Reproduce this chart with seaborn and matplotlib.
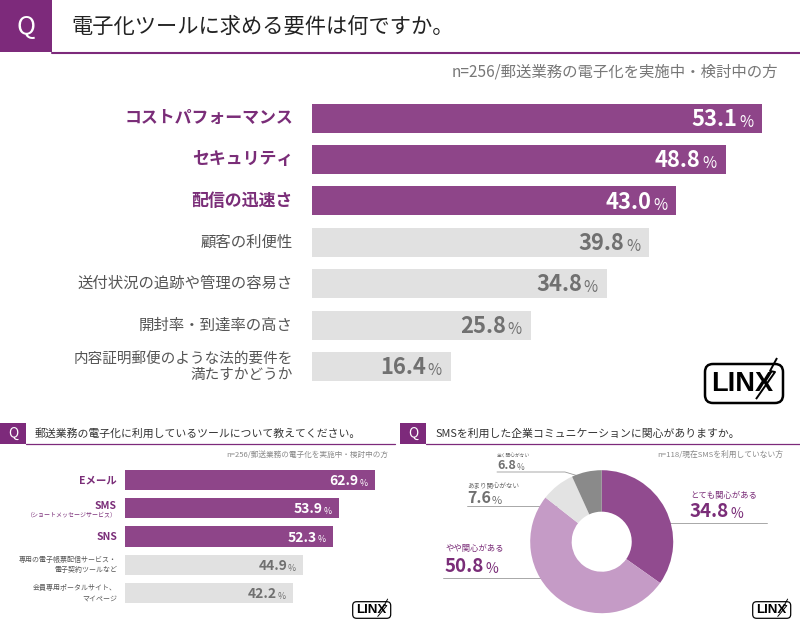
import matplotlib
matplotlib.use("Agg")
import matplotlib.pyplot as plt
import seaborn as sns
import pandas as pd
from matplotlib.patches import Rectangle, FancyBboxPatch

# ---------------- data ----------------
req_labels = ["コストパフォーマンス", "セキュリティ", "配信の迅速さ", "顧客の利便性",
              "送付状況の追跡や管理の容易さ", "開封率・到達率の高さ",
              "内容証明郵便のような法的要件を\n満たすかどうか"]
req_values = [53.1, 48.8, 43.0, 39.8, 34.8, 25.8, 16.4]
req_highlight = [True, True, True, False, False, False, False]

tool_labels = ["Eメール", "SMS", "SNS", "専用の電子帳票配信サービス・\n電子契約ツールなど",
               "会員専用ポータルサイト、\nマイページ"]
tool_values = [62.9, 53.9, 52.3, 44.9, 42.2]
tool_highlight = [True, True, True, False, False]

sms_labels = ["とても関心がある", "やや関心がある", "あまり関心がない", "全く関心がない"]
sms_values = [34.8, 50.8, 7.6, 6.8]

title_main = "電子化ツールに求める要件は何ですか。"
note_main = "n=256/郵送業務の電子化を実施中・検討中の方"
title_tool = "郵送業務の電子化に利用しているツールについて教えてください。"
note_tool = "n=256/郵送業務の電子化を実施中・検討中の方"
title_sms = "SMSを利用した企業コミュニケーションに関心がありますか。"
note_sms = "n=118/現在SMSを利用していない方"

# ---------------- style ----------------
PURPLE = "#8e4589"
QBOX = "#7d2a7b"
PTEXT = "#7a2d78"
GRAYBAR = "#e1e1e1"
GRAYVAL = "#707070"
LABGRAY = "#555555"
DONUT = ["#914b8f", "#c59bc6", "#e3e3e3", "#8a8a8a"]

sns.set_theme(style="white")
plt.rcParams["font.family"] = ["Noto Sans CJK JP", "DejaVu Sans"]

W, H = 800, 628
PT = 72 / 100.0  # points per pixel
fig = plt.figure(figsize=(8, 6.28), dpi=100)
fig.patch.set_facecolor("white")


def px_axes(l, t, r, b):
    a = fig.add_axes([l / W, 1 - b / H, (r - l) / W, (b - t) / H])
    a.patch.set_alpha(0)
    return a


ov = px_axes(0, 0, W, H)
ov.set_xlim(0, W)
ov.set_ylim(H, 0)
ov.axis("off")

# ---------------- headers ----------------
ov.add_patch(Rectangle((0, 0), 52, 52, color=QBOX, lw=0))
ov.text(26, 27, "Q", color="white", fontsize=18.5, ha="center", va="center")
ov.plot([52, 800], [52.5, 52.5], color=QBOX, lw=1.5)
ov.text(71, 26.5, title_main, fontsize=15.3, color="#222222", ha="left", va="center")
ov.text(778, 72, note_main, fontsize=11.1, color="#777777", ha="right", va="center")

for x0, x1, t in [(0, 395, title_tool), (400, 800, title_sms)]:
    ov.add_patch(Rectangle((x0, 423.3), 26, 20.7, color=QBOX, lw=0))
    ov.text(x0 + 13, 433.5, "Q", color="white", fontsize=10, ha="center", va="center")
    ov.plot([x0 + 26, x1], [444.2, 444.2], color=QBOX, lw=0.9)
    ov.text(x0 + 35, 433.3, t, fontsize=7.8, color="#333333", ha="left", va="center")
ov.text(388, 455, note_tool, fontsize=5.5, color="#888888", ha="right", va="center")
ov.text(783, 455, note_sms, fontsize=5.6, color="#888888", ha="right", va="center")


# ---------------- logo ----------------
def logo(x0, y0, x1, y1):
    w, h = x1 - x0, y1 - y0
    s = w / 78.0
    ov.add_patch(FancyBboxPatch((x0, y0), w, h, boxstyle=f"round,pad=0,rounding_size={8*s}",
                                fc="white", ec="black", lw=1.8 * s, zorder=5))
    ov.text(x0 + 37.5 * s, y0 + h * 0.5 + 0.5 * s, "LINX", fontfamily="Liberation Sans",
            fontweight="bold", fontsize=19.5 * s, ha="center", va="center", color="black",
            zorder=6)
    bx = [x0 + 72 * s, x0 + 65 * s, x0 + 70 * s, x0 + 51 * s]
    by = [y0 - 6 * s, y0 + 7 * s, y0 + 8 * s, y0 + h * 0.9]
    ov.plot(bx, by, color="black", lw=1.4 * s, zorder=7, solid_capstyle="butt")


logo(705, 364, 783, 403)
logo(352.7, 601.7, 390.7, 618.3)
logo(752.7, 601.7, 790.7, 618.3)


# ---------------- value label helper ----------------
def value_label(ax, v, i, color, in_pct, dy_base, gap, fs_num, fs_pct):
    pct = ax.annotate("%", xy=(v, i), xytext=(-in_pct * PT, -dy_base * PT),
                      textcoords="offset points", ha="right", va="baseline",
                      fontsize=fs_pct, color=color)
    ax.annotate(f"{v:.1f}", xy=(0, 0), xycoords=pct, xytext=(-gap * PT, 0),
                textcoords="offset points", ha="right", va="bottom",
                fontsize=fs_num, fontweight="bold", color=color)


# ---------------- main bar chart ----------------
SC1 = 8.475
ax1 = px_axes(312, 97.3, 790, 387.2)
df1 = pd.DataFrame({"label": req_labels, "value": req_values})
pal1 = {l: (PURPLE if h else GRAYBAR) for l, h in zip(req_labels, req_highlight)}
sns.barplot(data=df1, x="value", y="label", hue="label", palette=pal1, dodge=False,
            legend=False, width=0.7, saturation=1, ax=ax1, linewidth=0)
ax1.set_xlim(0, (790 - 312) / SC1)
ax1.set_ylim(6.5, -0.5)
ax1.axis("off")
for i, (lab, v, h) in enumerate(zip(req_labels, req_values, req_highlight)):
    fs = 12.2 if h else (10.5 if "\n" in lab else 11.1)
    ax1.annotate(lab, xy=(0, i), xycoords=("axes fraction", "data"),
                 xytext=(-19 * PT, 0), textcoords="offset points", ha="right",
                 va="center", fontsize=fs,
                 fontweight="bold" if h else "normal",
                 color=PTEXT if h else LABGRAY, linespacing=1.2)
    value_label(ax1, v, i, "white" if h else GRAYVAL, 9, 8.7, 1.8, 15.8, 11)

# ---------------- tool bar chart ----------------
SC2 = 3.975
ax2 = px_axes(125, 465.9, 395, 607.1)
df2 = pd.DataFrame({"label": tool_labels, "value": tool_values})
pal2 = {l: (PURPLE if h else GRAYBAR) for l, h in zip(tool_labels, tool_highlight)}
sns.barplot(data=df2, x="value", y="label", hue="label", palette=pal2, dodge=False,
            legend=False, width=0.71, saturation=1, ax=ax2, linewidth=0)
ax2.set_xlim(0, (395 - 125) / SC2)
ax2.set_ylim(4.5, -0.5)
ax2.axis("off")
for i, (lab, v, h) in enumerate(zip(tool_labels, tool_values, tool_highlight)):
    dy = 2 if lab == "SMS" else 0
    ax2.annotate(lab, xy=(0, i), xycoords=("axes fraction", "data"),
                 xytext=(-8 * PT, dy * PT), textcoords="offset points", ha="right",
                 va="center", fontsize=7.5 if h else 5.0,
                 fontweight="bold" if h else "normal",
                 color=PTEXT if h else LABGRAY, linespacing=1.4)
    if lab == "SMS":
        ax2.annotate("（ショートメッセージサービス）", xy=(0, i),
                     xycoords=("axes fraction", "data"), xytext=(-8 * PT, -6.5 * PT),
                     textcoords="offset points", ha="right", va="center",
                     fontsize=4.3, color=PTEXT)
    value_label(ax2, v, i, "white" if h else GRAYVAL, 7.4, 6, 0.8, 10, 6.3)

# ---------------- donut ----------------
cx, cy, R = 601.7, 541.7, 71.5
ax3 = px_axes(cx - R, cy - R, cx + R, cy + R)
ax3.pie(sms_values, colors=DONUT, startangle=90, counterclock=False, radius=1,
        wedgeprops=dict(width=0.58, linewidth=0))
ax3.set_xlim(-1, 1)
ax3.set_ylim(-1, 1)
ax3.set_aspect("equal")

# label specs: (x, label_y, baseline_y, line, label fs, num fs, pct fs, color)
specs = [
    (690, 495.5, 517, [(657, 523), (767, 523)], 6.0, 13.5, 10, PTEXT),
    (445, 548.8, 572, [(443, 578.3), (560, 578.3)], 6.0, 13.5, 10, PTEXT),
    (467, 485.5, 503, [(467, 505.5), (570, 505.5)], 4.7, 11.5, 8, GRAYVAL),
    (497, 454.7, 469.3, [(497, 472), (565, 472), (585, 478)], 3.4, 9, 6, GRAYVAL),
]
for (x, ly, by, line, fl, fn, fp, col), lab, v in zip(specs, sms_labels, sms_values):
    ov.text(x, ly, lab, fontsize=fl, color=col if col == PTEXT else "#666666",
            ha="left", va="center")
    num = ov.text(x, by, f"{v:.1f}", fontsize=fn, fontweight="bold", color=col,
                  ha="left", va="baseline")
    ov.annotate("%", xy=(1, 0), xycoords=num, xytext=(1.0 * PT, 0),
                textcoords="offset points", ha="left", va="bottom", fontsize=fp,
                color=col)
    xs, ys = zip(*line)
    ov.plot(xs, ys, color="#9a9a9a", lw=0.6, zorder=10)

fig.savefig("out.png", dpi=100, facecolor="white")
